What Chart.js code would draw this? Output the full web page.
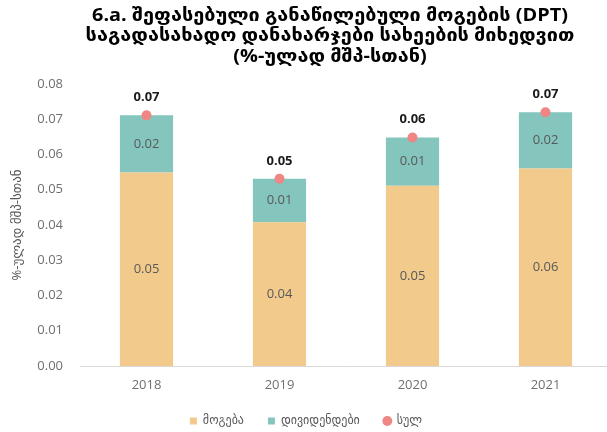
<!DOCTYPE html>
<html>
<head>
<meta charset="utf-8">
<script src="https://cdn.jsdelivr.net/npm/chart.js@4/dist/chart.umd.min.js"></script>
<style>
  html, body { margin: 0; padding: 0; background: #ffffff; overflow: hidden; }
  #wrap { width: 620px; height: 437px; }
</style>
</head>
<body>
<div id="wrap"><canvas id="chart"></canvas></div>
<script>
// chart data
var years = ["2018", "2019", "2020", "2021"];
var profit = [0.0549, 0.0408, 0.0511, 0.0560];     // მოგება
var dividends = [0.0162, 0.0123, 0.0137, 0.0160];  // დივიდენდები
var totals = [0.0711, 0.0531, 0.0648, 0.0720];     // სულ
var yTicks = [0, 0.01, 0.02, 0.03, 0.04, 0.05, 0.06, 0.07, 0.08];

var titleLines = [
  "6.a. შეფასებული განაწილებული მოგების (DPT)",
  "საგადასახადო დანახარჯები სახეების მიხედვით",
  "(%-ულად მშპ-სთან)"
];

var fontFam = "'Open Sans', 'DejaVu Sans', sans-serif";
var greyText = "#595959";
var tickGrey = "#6f6f6f";

// draws the three title lines at the top (a bit wider, like the original font)
var titlePlugin = {
  id: "titleLines",
  afterDraw: function (chart) {
    var ctx = chart.ctx;
    var stretch = 1.17;
    ctx.save();
    ctx.font = "bold 17px " + fontFam;
    ctx.fillStyle = "#000000";
    ctx.textAlign = "center";
    ctx.textBaseline = "middle";
    ctx.scale(stretch, 1);
    for (var i = 0; i < titleLines.length; i++) {
      ctx.fillText(titleLines[i], 330 / stretch, 16 + i * 20.5);
    }
    ctx.restore();
  }
};

// values inside bars and above the total points
var labelPlugin = {
  id: "valueLabels",
  afterDatasetsDraw: function (chart) {
    var ctx = chart.ctx;
    ctx.save();
    ctx.textAlign = "center";
    ctx.textBaseline = "middle";
    for (var d = 0; d < 2; d++) {
      var meta = chart.getDatasetMeta(d);
      var vals = chart.data.datasets[d].data;
      ctx.font = "13px " + fontFam;
      ctx.fillStyle = greyText;
      for (var i = 0; i < meta.data.length; i++) {
        var bar = meta.data[i];
        ctx.fillText(vals[i].toFixed(2), bar.x, (bar.y + bar.base) / 2);
      }
    }
    var pm = chart.getDatasetMeta(2);
    ctx.font = "bold 13px " + fontFam;
    ctx.fillStyle = "#1a1a1a";
    for (var j = 0; j < pm.data.length; j++) {
      var pt = pm.data[j];
      ctx.fillText(totals[j].toFixed(2), pt.x, pt.y - 18);
    }
    ctx.restore();
  }
};

var ctx = document.getElementById("chart");
new Chart(ctx, {
  type: "bar",
  data: {
    labels: years,
    datasets: [
      {
        label: "მოგება",
        data: profit,
        backgroundColor: "#F2CA8C",
        stack: "a",
        pointStyle: "rect",
        barPercentage: 0.4,
        categoryPercentage: 1.0,
        order: 2
      },
      {
        label: "დივიდენდები",
        data: dividends,
        backgroundColor: "#84C5BD",
        stack: "a",
        pointStyle: "rect",
        barPercentage: 0.4,
        categoryPercentage: 1.0,
        order: 2
      },
      {
        type: "line",
        label: "სულ",
        data: totals,
        stack: "tot",
        showLine: false,
        pointStyle: "circle",
        pointRadius: 5,
        pointHoverRadius: 5,
        backgroundColor: "#EF8683",
        borderColor: "#EF8683",
        borderWidth: 0,
        order: 1
      }
    ]
  },
  options: {
    responsive: true,
    maintainAspectRatio: false,
    animation: false,
    layout: { padding: { top: 84, right: 8, left: 0, bottom: 0 } },
    plugins: {
      legend: {
        position: "bottom",
        labels: {
          usePointStyle: true,
          boxWidth: 7,
          boxHeight: 7,
          padding: 24,
          color: greyText,
          font: { family: fontFam, size: 12 },
          sort: function (a, b) { return a.datasetIndex - b.datasetIndex; }
        }
      },
      tooltip: { enabled: false },
      title: { display: false }
    },
    scales: {
      x: {
        stacked: true,
        afterFit: function (scale) { scale.height = 25; },
        grid: { display: false, drawTicks: false },
        border: { display: true, color: "#D9D9D9", width: 1 },
        ticks: { color: tickGrey, font: { family: fontFam, size: 13 }, padding: 11 }
      },
      y: {
        stacked: true,
        min: 0,
        max: 0.08,
        afterFit: function (scale) { scale.width = 80; },
        afterBuildTicks: function (scale) {
          scale.ticks = yTicks.map(function (v) { return { value: v }; });
        },
        grid: { display: false, drawTicks: false },
        border: { display: false },
        ticks: {
          color: tickGrey,
          padding: 17,
          font: { family: fontFam, size: 13 },
          callback: function (v) { return Number(v).toFixed(2); }
        },
        title: {
          display: true,
          text: "%-ულად მშპ-სთან",
          color: greyText,
          font: { family: fontFam, size: 13 },
          padding: { top: 9, bottom: 0 }
        }
      }
    }
  },
  plugins: [titlePlugin, labelPlugin]
});
</script>
</body>
</html>
